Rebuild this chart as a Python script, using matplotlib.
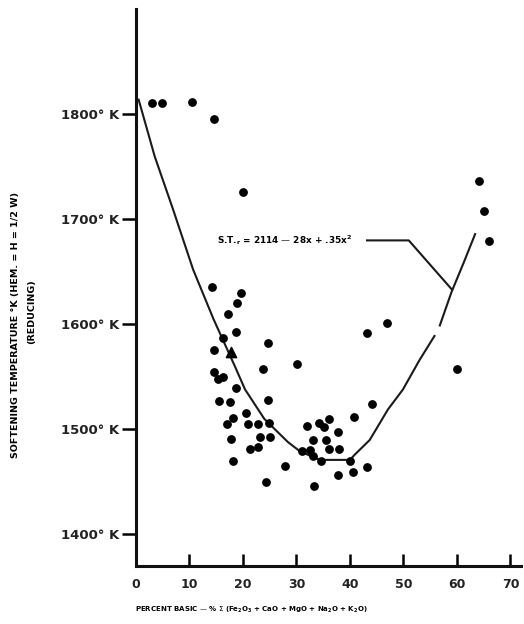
import matplotlib.pyplot as plt

# measured points: percent basic vs softening temperature (K)
pct_basic = [3.0, 4.9, 10.5, 14.6, 20.0, 14.2, 19.6, 18.9, 17.2, 18.7, 16.3, 14.6,
             24.7, 23.8, 14.6, 16.3, 15.4, 18.7, 15.5, 17.6, 24.7, 20.6, 18.1, 17.0,
             21.0, 22.8, 24.9, 17.8, 23.2, 25.0, 21.3, 22.8, 18.1, 27.9, 24.3,
             44.1, 40.7, 32.0, 34.2, 36.1, 35.2, 37.8, 33.1, 35.5, 36.1, 37.9, 31.0,
             32.5, 33.0, 34.5, 40.0, 37.8, 40.6, 43.2, 33.3, 30.1, 43.2, 46.9, 60.0,
             64.1, 65.1, 66.0]
soft_temp = [1811, 1811, 1812, 1796, 1726, 1636, 1630, 1620, 1610, 1593, 1587, 1576,
             1582, 1558, 1555, 1550, 1548, 1539, 1527, 1526, 1528, 1516, 1511, 1505,
             1505, 1505, 1506, 1491, 1493, 1493, 1481, 1483, 1470, 1465, 1450,
             1524, 1512, 1503, 1506, 1510, 1502, 1498, 1490, 1490, 1481, 1481, 1479,
             1480, 1475, 1470, 1470, 1457, 1459, 1464, 1446, 1562, 1592, 1601, 1558,
             1737, 1708, 1679]

tri_x = [17.8]
tri_y = [1574]

# fitted curve (drawn in two pieces, small gap near 56)
curve1_x = [0.5, 3.5, 6.9, 10.7, 14.5, 18.5, 20.4, 24.0, 28.4, 30.7, 34.4, 40.0,
            40.9, 43.7, 47.1, 49.9, 53.0, 55.8]
curve1_y = [1814, 1760, 1710, 1652, 1605, 1560, 1538, 1510, 1488, 1479, 1471, 1471,
            1476, 1490, 1519, 1538, 1566, 1589]
curve2_x = [56.8, 59.0, 61.2, 63.4]
curve2_y = [1599, 1631, 1658, 1686]

# leader line from the equation label to the curve
leader_x = [43.2, 51.0, 59.1]
leader_y = [1680, 1680, 1633]

x_ticks = [0, 10, 20, 30, 40, 50, 60, 70]
y_ticks = [1400, 1500, 1600, 1700, 1800]
y_tick_labels = ['1400° K', '1500° K', '1600° K', '1700° K', '1800° K']

fig = plt.figure(figsize=(5.24, 6.24), dpi=100)
ax = fig.add_axes([0.2595, 0.093, 0.735, 0.892])

ax.scatter(pct_basic, soft_temp, s=28, color='black', zorder=3)
ax.scatter(tri_x, tri_y, s=55, marker='^', color='black', zorder=3)
ax.plot(curve1_x, curve1_y, color='#1a1a1a', lw=1.5)
ax.plot(curve2_x, curve2_y, color='#1a1a1a', lw=1.5)
ax.plot(leader_x, leader_y, color='#1a1a1a', lw=1.5)

ax.text(15.1, 1680, r'S.T.$_\mathbf{r}$ = 2114 — 28x + .35x$^\mathbf{2}$',
        fontsize=6.4, fontweight='bold', va='center', ha='left')

ax.set_xlim(0, 72)
ax.set_ylim(1370, 1900)
for side in ['top', 'right']:
    ax.spines[side].set_visible(False)
for side in ['left', 'bottom']:
    ax.spines[side].set_linewidth(2.2)
    ax.spines[side].set_color('#111111')

ax.set_xticks(x_ticks)
ax.set_yticks(y_ticks)
ax.set_yticklabels(y_tick_labels)
ax.tick_params(axis='x', direction='in', length=9, width=1.8, pad=9,
               labelsize=9)
ax.tick_params(axis='y', direction='out', length=10, width=1.8, pad=2,
               labelsize=9.5)
for lbl in ax.get_xticklabels() + ax.get_yticklabels():
    lbl.set_fontweight('bold')
    lbl.set_color('#222222')

fig.text(0.030, 0.479, 'SOFTENING TEMPERATURE °K (HEM. = H = 1/2 W)',
         rotation=90, fontsize=6.8, fontweight='bold', ha='center', va='center')
fig.text(0.061, 0.50, '(REDUCING)', rotation=90, fontsize=6.8,
         fontweight='bold', ha='center', va='center')
fig.text(0.258, 0.022,
         r'PERCENT BASIC — % $\Sigma$ (Fe$_\mathbf{2}$O$_\mathbf{3}$ + CaO + MgO + '
         r'Na$_\mathbf{2}$O + K$_\mathbf{2}$O)',
         fontsize=5.0, fontweight='bold', ha='left', va='center')

fig.savefig('out.png', dpi=100, facecolor='white')
